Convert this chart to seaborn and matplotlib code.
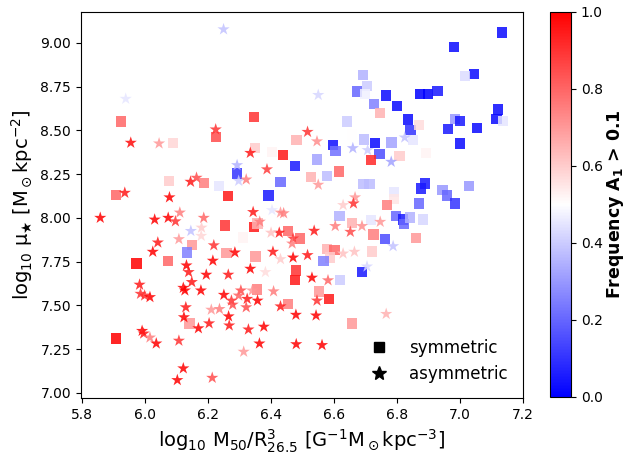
import matplotlib
matplotlib.use("Agg")
import matplotlib.pyplot as plt
import pandas as pd
import seaborn as sns
from matplotlib.lines import Line2D
from matplotlib.cm import ScalarMappable

# Galaxies with symmetric discs: log10 M50/R^3, log10 surface density, lopsided frequency
sym_x = [5.923, 6.345, 6.226, 6.089, 6.348, 6.292, 6.075, 6.187, 6.234, 6.262, 5.906,
         6.692, 6.706, 6.674, 6.699, 6.765, 6.874, 6.900, 6.929, 6.728, 6.746, 6.800,
         6.642, 6.836, 6.843, 6.871, 6.963, 6.657, 6.695, 6.730, 6.851, 6.783, 6.481,
         6.597, 6.605, 6.745, 6.717, 6.808, 6.892, 6.547, 6.437, 6.403, 6.476, 6.527,
         6.577, 6.617, 6.430, 6.694, 6.713, 6.889, 6.876, 6.945, 6.959, 6.791, 6.791,
         6.392, 6.871, 6.768,
         7.134, 6.982, 7.046, 7.016, 7.122, 7.117, 7.138, 6.984, 7.001, 7.055, 7.001,
         7.030, 6.984,
         6.253, 6.345, 6.357, 6.148, 6.132, 6.258, 6.311, 6.351, 5.972, 6.072, 6.356,
         6.141, 5.906,
         6.618, 6.657, 6.717, 6.798, 6.819, 6.823, 6.842, 6.884, 6.454, 6.493, 6.578,
         6.602, 6.588, 6.721, 6.567, 6.689, 6.763, 6.726, 6.861, 6.480, 6.475, 6.620,
         6.552, 6.585, 6.454, 6.657]
sym_y = [8.551, 8.577, 8.463, 8.429, 8.400, 8.254, 8.210, 8.200, 8.183, 8.124, 8.130,
         8.816, 8.753, 8.722, 8.707, 8.699, 8.707, 8.707, 8.724, 8.650, 8.600, 8.640,
         8.551, 8.562, 8.501, 8.530, 8.509, 8.477, 8.448, 8.429, 8.444, 8.431, 8.444,
         8.417, 8.381, 8.364, 8.331, 8.354, 8.371, 8.333, 8.360, 8.377, 8.295, 8.234,
         8.240, 8.265, 8.206, 8.193, 8.193, 8.197, 8.168, 8.158, 8.128, 8.149, 8.107,
         8.128, 8.082, 8.073,
         9.059, 8.977, 8.821, 8.810, 8.619, 8.564, 8.554, 8.564, 8.554, 8.514, 8.425,
         8.183, 8.082,
         7.956, 7.946, 7.968, 7.843, 7.802, 7.798, 7.888, 7.779, 7.740, 7.753, 7.590,
         7.397, 7.310,
         8.012, 7.972, 7.987, 8.010, 7.991, 7.964, 8.002, 7.991, 7.926, 7.882, 7.821,
         7.815, 7.773, 7.808, 7.753, 7.690, 7.880, 7.905, 7.886, 7.699, 7.646, 7.643,
         7.580, 7.537, 7.508, 7.397]
sym_f = [0.80, 0.90, 0.85, 0.58, 0.60, 0.10, 0.60, 0.75, 0.45, 0.95, 0.80,
         0.35, 0.40, 0.20, 0.47, 0.02, 0.00, 0.00, 0.05, 0.25, 0.65, 0.02,
         0.40, 0.02, 0.10, 0.57, 0.05, 0.50, 0.37, 0.02, 0.45, 0.32, 0.65,
         0.03, 0.22, 0.15, 0.92, 0.60, 0.52, 0.32, 0.95, 0.52, 0.05, 0.65,
         0.37, 0.80, 0.20, 0.37, 0.37, 0.05, 0.05, 0.30, 0.20, 0.45, 0.55,
         0.05, 0.20, 0.75,
         0.02, 0.02, 0.02, 0.43, 0.02, 0.02, 0.45, 0.30, 0.05, 0.02, 0.02,
         0.30, 0.10,
         0.90, 0.95, 0.65, 0.70, 0.25, 0.70, 0.52, 0.70, 1.00, 0.80, 0.75,
         0.70, 1.00,
         0.35, 0.65, 0.45, 0.20, 0.05, 0.20, 0.35, 0.42, 0.80, 0.80, 0.65,
         0.80, 0.60, 0.60, 0.25, 0.05, 0.15, 0.75, 0.70, 0.90, 0.95, 0.40,
         0.70, 0.95, 0.75, 0.70]

# Galaxies with lopsided (asymmetric) discs
asym_x = [6.249, 5.938, 5.954, 6.224, 6.044, 6.334, 6.292, 6.297, 6.321, 6.144, 6.163,
          5.935, 6.077,
          6.550, 6.516, 6.546, 6.660, 6.707, 6.825, 6.782, 6.387, 6.550, 6.667, 6.662,
          6.629,
          5.857, 6.030, 6.073, 6.096, 6.110, 6.186, 6.343, 6.145, 6.179, 6.107, 6.178,
          6.040, 6.024, 6.218, 6.285, 6.215, 6.131, 6.138, 6.194, 6.264, 6.334, 6.148,
          6.121, 6.126, 6.177, 5.982, 5.985, 5.998, 6.015, 6.250, 6.304, 6.297, 6.324,
          6.340, 6.357, 6.274, 6.278, 6.236, 6.210, 6.265, 6.129, 6.123, 6.169, 6.203,
          6.267, 6.321, 6.328, 5.990, 5.995, 6.015, 6.035, 6.107, 6.363, 6.313, 6.121,
          6.102, 6.213,
          6.403, 6.430, 6.440, 6.364, 6.604, 6.689, 6.747, 6.652, 6.537, 6.426, 6.470,
          6.467, 6.400, 6.406, 6.430, 6.470, 6.516, 6.629, 6.665, 6.705, 6.788, 6.382,
          6.530, 6.581, 6.408, 6.546, 6.430, 6.479, 6.543, 6.766, 6.377, 6.480, 6.562]
asym_y = [9.077, 8.680, 8.429, 8.505, 8.425, 8.371, 8.301, 8.211, 8.219, 8.206, 8.229,
          8.143, 8.117,
          8.702, 8.491, 8.437, 8.398, 8.387, 8.459, 8.320, 8.277, 8.189, 8.117, 8.082,
          8.073,
          8.000, 7.990, 8.000, 7.980, 8.030, 8.000, 8.033, 7.925, 7.944, 7.878, 7.897,
          7.859, 7.806, 7.843, 7.802, 7.755, 7.728, 7.690, 7.675, 7.675, 7.709, 7.633,
          7.600, 7.585, 7.585, 7.618, 7.566, 7.556, 7.547, 7.560, 7.585, 7.556, 7.537,
          7.585, 7.527, 7.527, 7.504, 7.479, 7.475, 7.437, 7.489, 7.432, 7.369, 7.397,
          7.385, 7.489, 7.362, 7.354, 7.339, 7.316, 7.282, 7.298, 7.282, 7.235, 7.140,
          7.073, 7.086,
          8.044, 8.030, 8.026, 7.978, 7.953, 7.953, 7.977, 7.920, 7.926, 7.915, 7.882,
          7.853, 7.915, 7.806, 7.764, 7.773, 7.787, 7.796, 7.806, 7.722, 7.838, 7.690,
          7.658, 7.643, 7.580, 7.527, 7.494, 7.446, 7.442, 7.451, 7.378, 7.278, 7.273]
asym_f = [0.38, 0.45, 0.98, 0.90, 0.70, 0.95, 0.35, 0.40, 0.75, 0.95, 0.85,
          0.95, 1.00,
          0.42, 0.90, 0.72, 0.35, 0.40, 0.38, 0.32, 0.88, 0.70, 0.70, 0.90,
          0.60,
          1.00, 1.00, 1.00, 0.90, 0.75, 0.80, 0.95, 0.38, 0.60, 0.70, 0.58,
          0.95, 1.00, 0.90, 1.00, 1.00, 1.00, 0.95, 1.00, 0.95, 1.00, 0.95,
          1.00, 1.00, 1.00, 0.95, 0.90, 0.90, 1.00, 1.00, 0.85, 0.80, 0.95,
          0.70, 1.00, 0.90, 0.85, 0.75, 0.70, 1.00, 0.95, 1.00, 1.00, 0.95,
          0.95, 0.85, 0.95, 1.00, 0.95, 0.75, 1.00, 0.90, 1.00, 0.70, 1.00,
          1.00, 0.85,
          0.45, 0.70, 0.75, 0.75, 0.75, 0.72, 0.70, 0.85, 0.95, 0.95, 0.90,
          0.75, 0.62, 0.95, 0.60, 1.00, 0.95, 0.62, 0.62, 0.42, 0.38, 0.57,
          1.00, 0.80, 0.75, 0.90, 0.95, 1.00, 1.00, 0.65, 1.00, 1.00, 1.00]

legend_labels = ["symmetric", "asymmetric"]
cbar_ticks = [0.0, 0.2, 0.4, 0.6, 0.8, 1.0]

sym = pd.DataFrame({"x": sym_x, "y": sym_y, "f": sym_f})
asym = pd.DataFrame({"x": asym_x, "y": asym_y, "f": asym_f})

fig = plt.figure(figsize=(6.26, 4.55), dpi=100)
ax = fig.add_axes([0.129, 0.125, 0.706, 0.849])
cax = fig.add_axes([0.879, 0.128, 0.033, 0.846])

norm = plt.Normalize(0, 1)
common = dict(x="x", y="y", hue="f", palette="bwr", hue_norm=norm,
              linewidth=0, alpha=0.85, legend=False, ax=ax)
sns.scatterplot(data=sym, marker="s", s=55, **common)
sns.scatterplot(data=asym, marker="*", s=85, **common)

ax.set_xlim(5.795, 7.2)
ax.set_ylim(6.97, 9.177)
ax.set_xticks([5.8, 6.0, 6.2, 6.4, 6.6, 6.8, 7.0, 7.2])
ax.set_yticks([7.0, 7.25, 7.5, 7.75, 8.0, 8.25, 8.5, 8.75, 9.0])
ax.tick_params(labelsize=10)
ax.set_xlabel(r"log$_{10}$ M$_{50}$/R$^{3}_{26.5}$ [G$^{-1}$M$_\odot$kpc$^{-3}$]", fontsize=14)
ax.set_ylabel(r"log$_{10}$ μ$_\bigstar$ [M$_\odot$kpc$^{-2}$]", fontsize=14)

handles = [Line2D([], [], marker="s", color="k", linestyle="none", markersize=7),
           Line2D([], [], marker="*", color="k", linestyle="none", markersize=10)]
ax.legend(handles, legend_labels, loc="lower right", frameon=False, fontsize=12)

sm = ScalarMappable(norm=norm, cmap="bwr")
cbar = fig.colorbar(sm, cax=cax, ticks=cbar_ticks)
cbar.ax.tick_params(labelsize=10)
cbar.set_label(r"Frequency A$_\mathbf{1}$ > 0.1", fontsize=12.5, fontweight="bold", labelpad=2)

fig.savefig("out.png", dpi=100)
